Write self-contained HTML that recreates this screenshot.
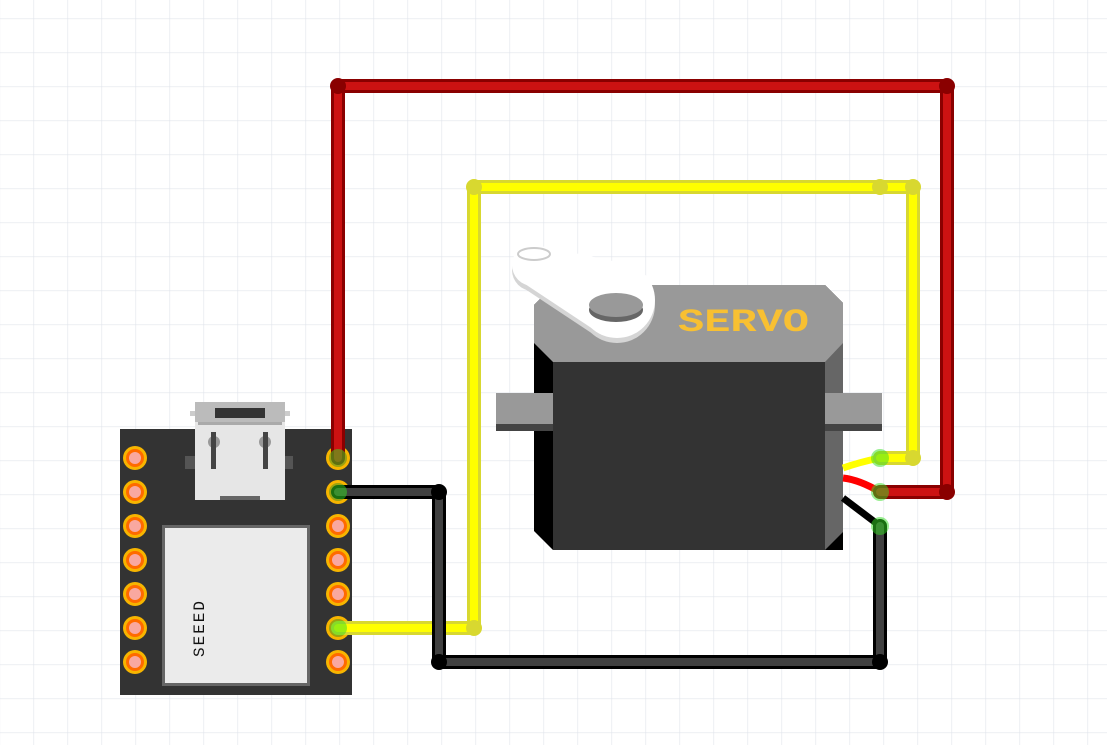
<!DOCTYPE html>
<html><head><meta charset="utf-8"><style>
html,body{margin:0;padding:0;background:#fff;}
svg{display:block;}
</style></head><body>
<svg width="1107" height="745" viewBox="0 0 1107 745" xmlns="http://www.w3.org/2000/svg">
<defs>
<pattern id="g" x="33.5" y="18.5" width="34" height="34" patternUnits="userSpaceOnUse">
<path d="M0 0H34M0 0V34" stroke="#e1e4eb" stroke-width="1.2" fill="none"/>
</pattern>
</defs>
<rect width="1107" height="745" fill="url(#g)"/>

<!-- Board -->
<rect x="120" y="429" width="232" height="266" fill="#333"/>
<!-- USB -->
<rect x="185" y="456" width="108" height="13" fill="#555"/>
<rect x="190" y="411" width="100" height="5" fill="#ccc"/>
<rect x="195" y="402" width="90" height="98" fill="#e6e6e6"/>
<rect x="195" y="402" width="90" height="20" fill="#bbb"/>
<rect x="215" y="408" width="50" height="10" fill="#333"/>
<rect x="198" y="422" width="84" height="3" fill="#aaa"/>
<circle cx="214" cy="442" r="6" fill="#999"/><rect x="211" y="432" width="5" height="37" fill="#444"/>
<circle cx="265" cy="442" r="6" fill="#999"/><rect x="263" y="432" width="5" height="37" fill="#444"/>
<rect x="220" y="496" width="40" height="4" fill="#666"/>
<!-- Chip -->
<rect x="163.5" y="526.5" width="145" height="158" fill="#ebebeb" stroke="#666" stroke-width="3"/>
<text transform="translate(204,657) rotate(-90)" font-family="Liberation Mono, monospace" font-size="16" fill="#111" letter-spacing="2">SEEED</text>
<!-- Pins -->
<g>
<g id="pins">
<circle cx="135" cy="458" r="12" fill="#f7b500"/><circle cx="135" cy="458" r="9" fill="#ff6a00"/><circle cx="135" cy="458" r="6" fill="#f9a8a0"/>
<circle cx="135" cy="492" r="12" fill="#f7b500"/><circle cx="135" cy="492" r="9" fill="#ff6a00"/><circle cx="135" cy="492" r="6" fill="#f9a8a0"/>
<circle cx="135" cy="526" r="12" fill="#f7b500"/><circle cx="135" cy="526" r="9" fill="#ff6a00"/><circle cx="135" cy="526" r="6" fill="#f9a8a0"/>
<circle cx="135" cy="560" r="12" fill="#f7b500"/><circle cx="135" cy="560" r="9" fill="#ff6a00"/><circle cx="135" cy="560" r="6" fill="#f9a8a0"/>
<circle cx="135" cy="594" r="12" fill="#f7b500"/><circle cx="135" cy="594" r="9" fill="#ff6a00"/><circle cx="135" cy="594" r="6" fill="#f9a8a0"/>
<circle cx="135" cy="628" r="12" fill="#f7b500"/><circle cx="135" cy="628" r="9" fill="#ff6a00"/><circle cx="135" cy="628" r="6" fill="#f9a8a0"/>
<circle cx="135" cy="662" r="12" fill="#f7b500"/><circle cx="135" cy="662" r="9" fill="#ff6a00"/><circle cx="135" cy="662" r="6" fill="#f9a8a0"/>
</g>
<use href="#pins" x="203"/>
</g>

<!-- Servo -->
<polygon points="534,305 554,285 825,285 843,303 843,550 825,550 553,550 534,531" fill="#000"/>
<rect x="825" y="303" width="18" height="229" fill="#666"/>
<polygon points="825,532 843,532 825,550" fill="#666"/>
<rect x="553" y="362" width="272" height="188" fill="#333"/>
<polygon points="534,305 554,285 825,285 843,303 843,343 825,362 553,362 534,343" fill="#999"/>
<rect x="496" y="393" width="57" height="38" fill="#999"/><rect x="496" y="424" width="57" height="7" fill="#444"/>
<rect x="825" y="393" width="57" height="38" fill="#999"/><rect x="825" y="424" width="57" height="7" fill="#444"/>
<!-- horn -->
<g>
<g fill="#d5d5d5" transform="translate(0,5)">
<circle cx="533" cy="265" r="21"/><circle cx="617" cy="300" r="38"/>
<polygon points="541,246 632,265 602,335 525,284"/>
</g>
<g fill="#fff">
<circle cx="533" cy="265" r="21"/><circle cx="617" cy="300" r="38"/>
<polygon points="541,246 632,265 602,335 525,284"/>
</g>
<ellipse cx="534" cy="254" rx="16" ry="6" fill="none" stroke="#ccc" stroke-width="2"/>
<ellipse cx="616" cy="310" rx="27" ry="12" fill="#666"/>
<ellipse cx="616" cy="305" rx="27" ry="12" fill="#999"/>
</g>
<text x="678" y="331" textLength="131" lengthAdjust="spacingAndGlyphs" font-family="Liberation Mono, monospace" font-weight="bold" font-size="32" fill="#f8c032">SERVO</text>

<!-- servo leads -->
<path d="M843 468 Q860 462 880 458" stroke="#ff0" stroke-width="7" fill="none"/>
<path d="M843 478 Q860 480 880 492" stroke="#f00" stroke-width="7" fill="none"/>
<path d="M843 498 L880 526" stroke="#000" stroke-width="7" fill="none"/>

<!-- wires -->
<g fill="none" stroke-linejoin="round" stroke-linecap="round">
<polyline points="338,458 338,86 947,86 947,492 880,492" stroke="#8a0000" stroke-width="14"/>
<polyline points="338,458 338,86 947,86 947,492 880,492" stroke="#cc1212" stroke-width="8"/>
<polyline points="338,628 474,628 474,187 913,187 913,458 880,458" stroke="#d8d830" stroke-width="14"/>
<polyline points="338,628 474,628 474,187 913,187 913,458 880,458" stroke="#ffff00" stroke-width="8"/>
<polyline points="338,492 439,492 439,662 880,662 880,526" stroke="#000" stroke-width="14"/>
<polyline points="338,492 439,492 439,662 880,662 880,526" stroke="#404040" stroke-width="8"/>
</g>
<g fill="#8a0000"><circle cx="338" cy="86" r="8"/><circle cx="947" cy="86" r="8"/><circle cx="947" cy="492" r="8"/></g>
<g fill="#d8d830"><circle cx="474" cy="628" r="8"/><circle cx="474" cy="187" r="8"/><circle cx="880" cy="187" r="8"/><circle cx="913" cy="187" r="8"/><circle cx="913" cy="458" r="8"/></g>
<g fill="#000"><circle cx="439" cy="492" r="8"/><circle cx="439" cy="662" r="8"/><circle cx="880" cy="662" r="8"/></g>
<!-- connection glows -->
<g fill="#33dd22" fill-opacity="0.5">
<circle cx="338" cy="458" r="9"/><circle cx="338" cy="492" r="9"/><circle cx="338" cy="628" r="9"/>
<circle cx="880" cy="458" r="9"/><circle cx="880" cy="492" r="9"/><circle cx="880" cy="526" r="9"/>
</g>
</svg>
</body></html>
